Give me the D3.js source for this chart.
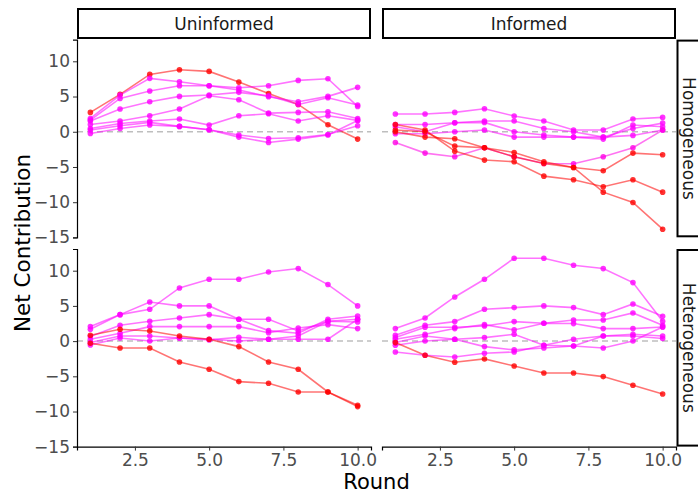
<!DOCTYPE html>
<html><head><meta charset="utf-8">
<script src="https://cdn.jsdelivr.net/npm/d3@7"></script>
<style>body{margin:0;background:#fff}svg{display:block}text{font-family:"DejaVu Sans",sans-serif}</style>
</head><body><svg id="c" width="698" height="495"></svg>
<script>
const rounds = [1,2,3,4,5,6,7,8,9,10];
const colLabels = ["Uninformed","Informed"];
const rowLabels = ["Homogeneous","Heterogeneous"];
const xTicks = [2.5,5.0,7.5,10.0];
const yTicks = [-15,-10,-5,0,5,10];

// Uninformed / Homogeneous
const uhSeries = [
  [2.75,5.30,8.14,8.81,8.57,7.05,5.44,3.88,1.00,-1.04],
  [1.89,5.21,7.58,7.10,6.53,6.25,6.53,7.29,7.53,3.60],
  [1.66,4.73,5.78,6.53,6.53,5.92,4.97,4.26,5.02,6.30],
  [1.52,3.22,4.26,5.02,5.21,5.59,5.11,3.88,4.83,3.79],
  [1.04,1.52,2.27,3.22,5.11,4.55,2.65,2.75,2.84,1.89],
  [0.47,1.18,1.52,1.80,0.95,2.27,2.56,1.52,2.27,1.61],
  [0.24,0.85,1.33,0.76,0.28,-0.47,-0.95,-0.85,-0.38,0.85],
  [-0.24,0.47,0.95,0.76,0.28,-0.76,-1.52,-1.04,-0.47,1.61]
];
const uhColor = [0,1,1,1,1,1,1,1];

// Informed / Homogeneous
const ihSeries = [
  [2.51,2.51,2.75,3.27,2.23,1.52,0.24,0.24,1.80,2.04],
  [1.04,1.04,1.28,1.52,1.52,0.47,0.00,-0.76,0.47,1.23],
  [0.71,0.00,1.28,1.33,0.00,-0.47,-0.76,-1.04,0.95,0.71],
  [-0.28,-0.28,0.00,0.24,-0.76,-0.76,-0.76,-0.76,-0.52,0.24],
  [-1.52,-3.03,-3.55,-2.27,-3.55,-4.50,-4.55,-3.55,-2.27,0.24],
  [1.04,0.24,-2.75,-4.02,-4.26,-6.30,-6.82,-7.81,-6.82,-8.57],
  [0.00,-0.76,-0.99,-2.27,-2.94,-4.26,-5.07,-5.54,-3.03,-3.27],
  [0.24,0.00,-2.04,-2.27,-3.55,-4.50,-5.07,-8.57,-10.04,-13.83]
];
const ihColor = [1,1,1,1,0.9,0,0,0];

// Uninformed / Heterogeneous
const uxSeries = [
  [2.06,3.76,4.52,7.55,8.78,8.78,9.82,10.30,8.03,5.00],
  [1.68,3.76,5.56,5.00,5.00,3.10,3.10,1.44,2.82,3.10],
  [0.64,2.25,2.82,3.29,3.76,3.10,1.49,1.11,3.10,3.57],
  [0.26,1.11,2.06,2.06,2.06,2.06,1.20,1.87,2.34,1.78],
  [-0.21,0.73,0.73,0.45,0.17,0.54,0.26,0.26,0.26,3.10],
  [-0.54,0.45,0.02,0.45,0.26,0.02,0.26,0.73,2.82,2.72],
  [0.83,1.68,1.44,0.73,0.26,-0.78,-2.96,-4.00,-7.22,-9.30],
  [-0.31,-0.97,-0.97,-2.96,-4.00,-5.75,-5.99,-7.22,-7.22,-9.11]
];
const uxColor = [1,1,1,1,1,1,0,0];

// Informed / Heterogeneous
const ixSeries = [
  [1.78,3.29,6.27,8.78,11.77,11.77,10.77,10.30,8.31,2.82],
  [0.83,2.25,2.77,4.52,4.76,5.00,4.76,3.76,5.28,3.53],
  [0.50,1.96,1.96,2.15,2.77,2.53,3.00,3.00,4.00,2.25],
  [0.26,0.97,1.78,2.34,1.59,2.53,2.49,1.78,1.78,2.01],
  [-0.21,0.73,0.26,0.50,0.97,-0.59,-0.69,0.73,0.73,0.36],
  [-0.59,0.02,0.26,-0.78,-1.25,-0.97,-0.69,-0.97,0.02,2.01],
  [-1.54,-2.01,-2.25,-1.73,-1.54,-0.59,0.26,0.73,0.97,0.73],
  [-0.21,-2.01,-3.00,-2.53,-3.53,-4.52,-4.52,-5.04,-6.27,-7.50]
];
const ixColor = [1,1,1,1,1,1,1,0];

const panels = [
  {row:0,col:0,series:uhSeries,color:uhColor},
  {row:0,col:1,series:ihSeries,color:ihColor},
  {row:1,col:0,series:uxSeries,color:uxColor},
  {row:1,col:1,series:ixSeries,color:ixColor}
];

const svg = d3.select("#c");
const colX = [[77,371],[382,676]];
const rowY = [[39.6,237.3],[249,446.6]];
const colorScale = d3.scaleLinear().domain([0,1]).range(["#FF0000","#FF00FF"]);
const tickFont = "17px";

panels.forEach(p=>{
  const x = d3.scaleLinear().domain([0.55,10.45]).range(colX[p.col]);
  const y = d3.scaleLinear().domain([-14.98,13.08]).range([rowY[p.row][1],rowY[p.row][0]]);
  const g = svg.append("g");
  g.append("line").attr("x1",colX[p.col][0]).attr("x2",colX[p.col][1])
    .attr("y1",y(0)).attr("y2",y(0)).attr("stroke","#BEBEBE").attr("stroke-width",1.5)
    .attr("stroke-dasharray","6,4");
  const line = d3.line().x((d,i)=>x(rounds[i])).y(d=>y(d));
  p.series.forEach((s,k)=>{
    g.append("path").attr("d",line(s)).attr("fill","none")
      .attr("stroke",colorScale(p.color[k])).attr("stroke-opacity",0.55).attr("stroke-width",1.6);
  });
  p.series.forEach((s,k)=>{
    g.selectAll(null).data(s).enter().append("circle")
      .attr("cx",(d,i)=>x(rounds[i])).attr("cy",d=>y(d)).attr("r",2.8)
      .attr("fill",colorScale(p.color[k])).attr("fill-opacity",0.8);
  });
  if(p.col===0){
    const ax = g.append("g").attr("transform",`translate(${colX[0][0]},0)`)
      .call(d3.axisLeft(y).tickValues(yTicks).tickSize(4).tickPadding(3).tickFormat(d3.format("d")));
    ax.select(".domain").attr("stroke","#000").attr("stroke-width",1.2);
    ax.selectAll(".tick line").attr("stroke","#333");
    ax.selectAll(".tick text").attr("fill","#4D4D4D").style("font-size",tickFont).style("font-family","DejaVu Sans");
  }
  if(p.row===1){
    const ax = g.append("g").attr("transform",`translate(0,${rowY[1][1]})`)
      .call(d3.axisBottom(x).tickValues(xTicks).tickSize(4).tickPadding(3).tickFormat(d3.format(".1f")));
    ax.select(".domain").attr("stroke","#000").attr("stroke-width",1.2);
    ax.selectAll(".tick line").attr("stroke","#333");
    ax.selectAll(".tick text").attr("fill","#4D4D4D").style("font-size",tickFont).style("font-family","DejaVu Sans");
  }
});

colLabels.forEach((lab,c)=>{
  svg.append("rect").attr("x",colX[c][0]+1).attr("y",9).attr("width",colX[c][1]-colX[c][0]-2).attr("height",29)
    .attr("fill","#fff").attr("stroke","#000").attr("stroke-width",2);
  svg.append("text").attr("x",(colX[c][0]+colX[c][1])/2).attr("y",30).attr("text-anchor","middle")
    .attr("fill","#1A1A1A").style("font-size","17px").text(lab);
});
rowLabels.forEach((lab,r)=>{
  svg.append("rect").attr("x",677.5).attr("y",rowY[r][0]+1).attr("width",40).attr("height",rowY[r][1]-rowY[r][0]-2)
    .attr("fill","#fff").attr("stroke","#000").attr("stroke-width",2);
  const cy=(rowY[r][0]+rowY[r][1])/2;
  svg.append("text").attr("transform",`translate(683,${cy}) rotate(90)`).attr("text-anchor","middle")
    .attr("fill","#1A1A1A").style("font-size","17px").text(lab);
});
svg.append("text").attr("x",376.5).attr("y",489).attr("text-anchor","middle").attr("fill","#000")
  .style("font-size","21px").text("Round");
svg.append("text").attr("transform","translate(30,243) rotate(-90)").attr("text-anchor","middle").attr("fill","#000")
  .style("font-size","21.5px").text("Net Contribution");
</script></body></html>
